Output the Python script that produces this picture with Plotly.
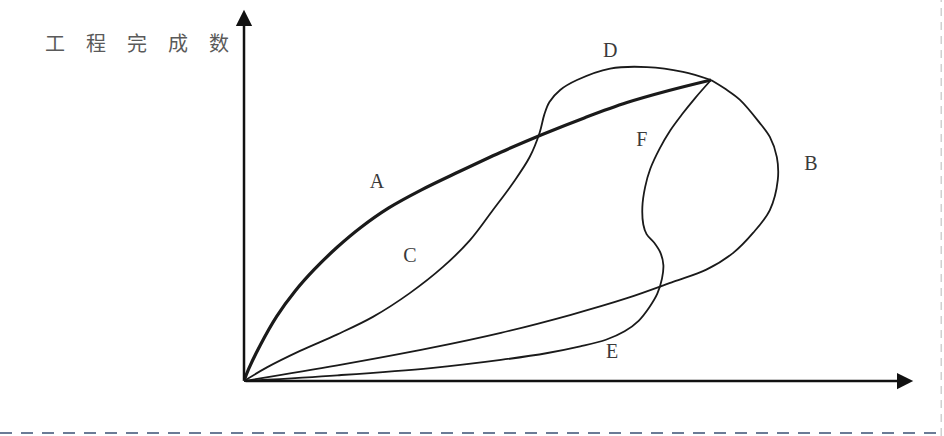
import plotly.graph_objects as go

# curve A (thick) - origin to end point
a_x = [0, 1, 3.5, 7, 11, 15, 20, 25, 31, 38, 46, 55, 64, 73, 82, 91, 100]
a_y = [0, 4, 12, 21.5, 30, 37, 44.5, 51, 57.5, 63.5, 69.5, 76, 82, 87.5, 92.5, 96.5, 100]

# curve C / D - rises late, loops over the top
c_x = [0, 5, 12, 20, 27.6, 35.5, 42.6, 48.4, 53.3, 57.6, 61.2, 63.3, 64.3, 65.4, 67.7, 71.3, 78.4, 86.3, 94, 100]
c_y = [0, 4.6, 10, 15.5, 21.3, 29.2, 37.9, 46.8, 56.8, 65.8, 74.5, 82.5, 88.5, 92.7, 96.7, 100, 103.8, 104.3, 102.7, 100]

# curve B - slow start then bulges out to the right
b_x = [0, 20, 40, 55, 70, 82, 92, 99, 104.7, 109, 112.6, 114.3, 114.1, 112.6, 110.3, 106.2, 103.2, 100]
b_y = [0, 5.2, 11, 16, 22, 27.5, 33, 37, 42.5, 49.2, 56.8, 66.8, 74.4, 81.1, 86, 93.4, 96.9, 100]

# curve E / F - very slow start, then steep catch-up
e_x = [0, 20, 40, 55, 65, 72, 77.5, 81.5, 84.5, 86.8, 88.5, 89.5, 89.8, 89.2, 87.8, 86.2, 85.5, 85.3, 85.9, 87, 89, 91.3, 93.8, 96.6, 100]
e_y = [0, 1.9, 4.3, 7, 9.3, 11.5, 13.7, 16.5, 20, 24.5, 29, 34, 38.5, 42.5, 46, 48.8, 52, 57.8, 64.5, 70.5, 77.2, 83.3, 88.6, 94, 100]

# curve labels
lab_text = ["A", "C", "D", "F", "B", "E"]
lab_x = [28.5, 35.5, 78.4, 85.2, 121.4, 78.8]
lab_y = [65.8, 41.2, 109.3, 79.7, 71.8, 9.3]

fig = go.Figure()

for xs, ys, w in [(b_x, b_y, 1.8), (e_x, e_y, 1.8), (c_x, c_y, 1.8), (a_x, a_y, 3.2)]:
    fig.add_trace(go.Scatter(x=xs, y=ys, mode="lines",
                             line=dict(color="#1a1a1a", width=w, shape="spline", smoothing=1.0),
                             hoverinfo="skip", showlegend=False))

fig.add_trace(go.Scatter(x=lab_x, y=lab_y, mode="text", text=lab_text,
                         textfont=dict(family="Liberation Serif", size=20, color="#3a3a3a"),
                         hoverinfo="skip", showlegend=False))

# axes with arrow heads
fig.add_annotation(x=143.3, y=0, ax=0, ay=0, xref="x", yref="y", axref="x", ayref="y",
                   text="", showarrow=True, arrowhead=2, arrowsize=1.3, arrowwidth=2.5, arrowcolor="#111")
fig.add_annotation(x=0, y=123.3, ax=0, ay=0, xref="x", yref="y", axref="x", ayref="y",
                   text="", showarrow=True, arrowhead=2, arrowsize=1.3, arrowwidth=2.5, arrowcolor="#111")

# y axis title
fig.add_annotation(x=-43.0, y=112.3, xref="x", yref="y", xanchor="left", showarrow=False,
                   text='<span style="letter-spacing:21px">工程完成数</span>',
                   font=dict(family="Noto Sans CJK SC", size=20, color="#5a5a5a"))

# dashed page rules (bottom and right edge)
fig.add_shape(type="line", xref="paper", yref="y", x0=0, x1=1, y0=-17.3, y1=-17.3,
              line=dict(color="#6b7b96", width=2, dash="12px,9px"))
fig.add_shape(type="line", xref="x", yref="paper", x0=149.3, x1=149.3, y0=0, y1=1,
              line=dict(color="#d0d0d0", width=1.5, dash="8px,6px"))

fig.update_layout(
    width=944, height=436,
    margin=dict(l=0, r=0, t=0, b=0),
    paper_bgcolor="white", plot_bgcolor="white",
    xaxis=dict(range=[-52.25, 149.89], visible=False, fixedrange=True),
    yaxis=dict(range=[-18.27, 126.58], visible=False, fixedrange=True),
)

fig.write_html("out.html", config={"displayModeBar": False})

# drop the default page margin so the figure fills the window
with open("out.html", encoding="utf-8") as f:
    page = f.read()
page = page.replace("<head>", "<head><style>body{margin:0;overflow:hidden}</style>", 1)
with open("out.html", "w", encoding="utf-8") as f:
    f.write(page)
